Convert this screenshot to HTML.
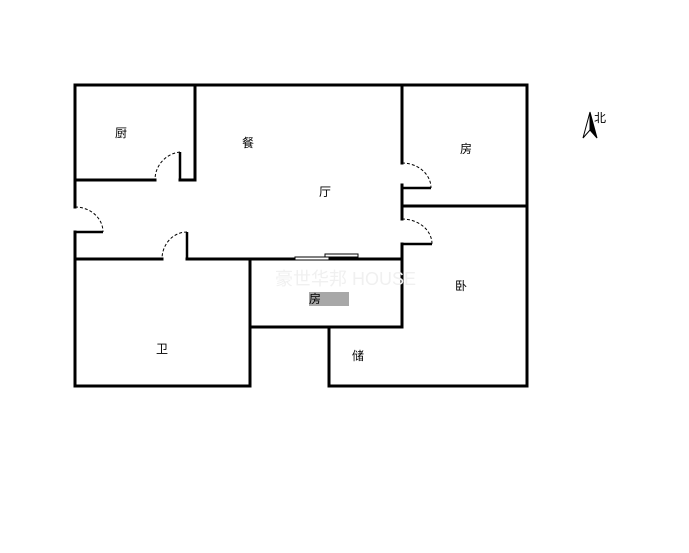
<!DOCTYPE html>
<html><head><meta charset="utf-8"><style>
html,body{margin:0;padding:0;background:#fff;width:689px;height:553px;overflow:hidden}
svg text{font-family:"Liberation Sans","Noto Sans CJK SC",sans-serif;font-size:12px;fill:#000}
</style></head><body>
<svg width="689" height="553" viewBox="0 0 689 553" xmlns="http://www.w3.org/2000/svg">
<g stroke="#000" stroke-width="3" fill="none" stroke-linecap="square">
<!-- outer top -->
<line x1="75" y1="85" x2="527" y2="85"/>
<!-- left wall -->
<line x1="75" y1="85" x2="75" y2="207"/>
<line x1="75" y1="232" x2="75" y2="386"/>
<!-- kitchen -->
<line x1="195" y1="85" x2="195" y2="180"/>
<line x1="75" y1="180" x2="155" y2="180"/>
<line x1="180" y1="180" x2="195" y2="180"/>
<!-- upper right room -->
<line x1="527" y1="85" x2="527" y2="386"/>
<line x1="402" y1="85" x2="402" y2="163"/>
<line x1="402" y1="185" x2="402" y2="219"/>
<line x1="402" y1="206" x2="527" y2="206"/>
<line x1="402" y1="244" x2="402" y2="327"/>
<!-- bathroom -->
<line x1="75" y1="259" x2="162" y2="259"/>
<line x1="187" y1="259" x2="402" y2="259"/>
<line x1="75" y1="386" x2="250" y2="386"/>
<line x1="250" y1="259" x2="250" y2="386"/>
<!-- middle room bottom -->
<line x1="250" y1="327" x2="402" y2="327"/>
<!-- storage -->
<line x1="329" y1="327" x2="329" y2="386"/>
<line x1="329" y1="386" x2="527" y2="386"/>
</g>
<!-- door leaves -->
<g stroke="#000" stroke-width="2.5">
<line x1="180" y1="152" x2="180" y2="180"/>
<line x1="75" y1="232" x2="103" y2="232"/>
<line x1="187" y1="232" x2="187" y2="259"/>
<line x1="402" y1="188" x2="431" y2="188"/>
<line x1="402" y1="244" x2="432" y2="244"/>
</g>
<!-- door arcs -->
<g stroke="#000" stroke-width="1" fill="none" stroke-dasharray="3,2">
<path d="M180 152 A28 28 0 0 0 155 180"/>
<path d="M75 207 A28 25 0 0 1 103 232"/>
<path d="M187 232 A25 27 0 0 0 162 259"/>
<path d="M402 163 A29 25 0 0 1 431 188"/>
<path d="M402 219 A30 25 0 0 1 432 244"/>
</g>
<!-- window -->
<rect x="295" y="257" width="34" height="3" fill="#fff" stroke="#000" stroke-width="1"/>
<rect x="325" y="254" width="33" height="3" fill="#fff" stroke="#000" stroke-width="1"/>
<!-- watermark -->
<text x="275" y="285" style="font-size:18px;fill:#f0f0f0">豪世华邦 HOUSE</text>
<!-- gray box -->
<rect x="309" y="292" width="40" height="14" fill="#a8a8a8"/>
<!-- labels -->
<text x="115" y="137">厨</text>
<text x="242" y="147">餐</text>
<text x="319" y="196">厅</text>
<text x="460" y="153">房</text>
<text x="309" y="303">房</text>
<text x="455" y="290">卧</text>
<text x="156" y="353">卫</text>
<text x="352" y="360">储</text>
<!-- north arrow -->
<path d="M590 112 L583 138 L590 130 Z" fill="#fff" stroke="#000" stroke-width="1"/>
<path d="M590 112 L597 138 L590 130 Z" fill="#000" stroke="#000" stroke-width="1"/>
<text x="594" y="122">北</text>
</svg>
</body></html>
